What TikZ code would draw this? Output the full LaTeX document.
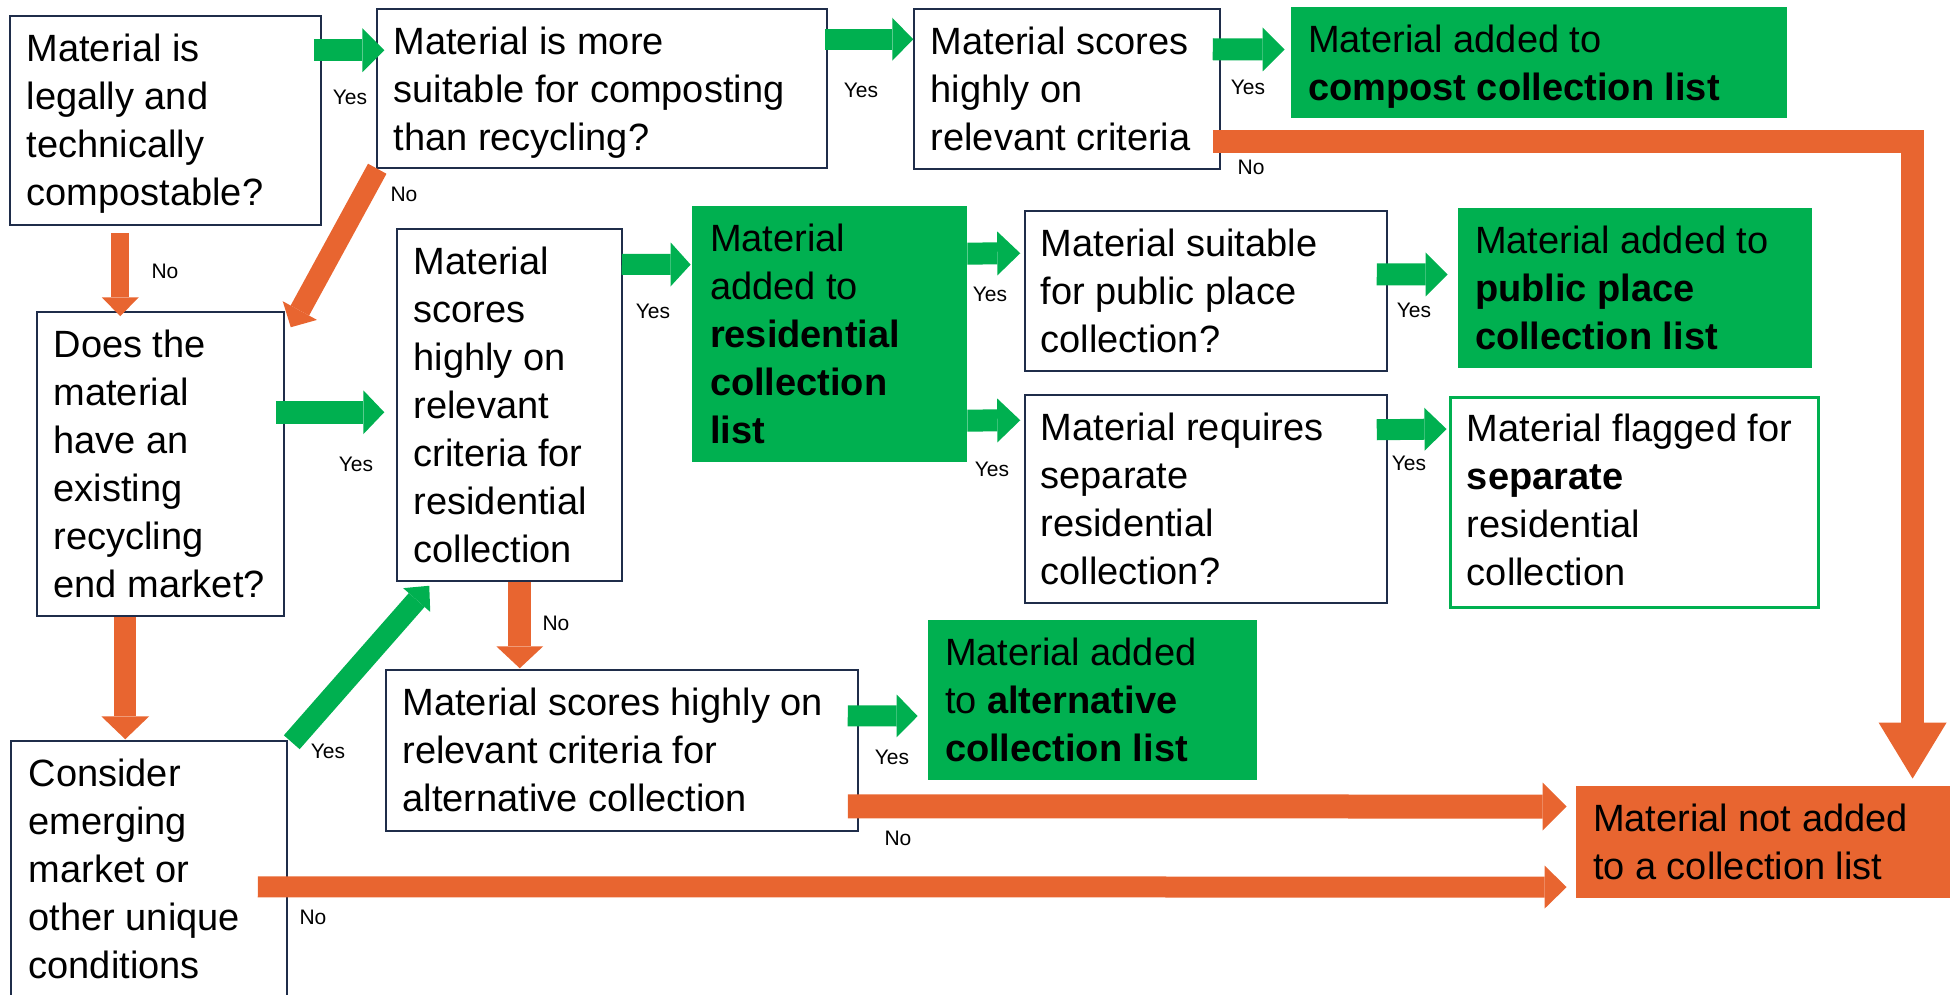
\documentclass[tikz,border=0pt]{standalone}
\usepackage{fontspec}
\setmainfont{Liberation Sans}
\usetikzlibrary{arrows.meta,fit,calc}
\definecolor{gr}{HTML}{00B050}
\definecolor{og}{HTML}{E86530}
\definecolor{nv}{HTML}{1F2D4A}
\begin{document}
\begin{tikzpicture}[x=0.5pt,y=-0.5pt,
  box/.style={draw=nv,line width=0.75pt,inner sep=0pt},
  gbox/.style={fill=gr,inner sep=0pt},
  gobox/.style={draw=gr,line width=1.5pt,inner sep=0pt},
  obox/.style={fill=og,inner sep=0pt},
  txt/.style={anchor=north west,inner sep=0pt,align=left,font=\fontsize{19}{24}\selectfont},
  lbl/.style={inner sep=0pt,font=\fontsize{10.5}{12}\selectfont},
  blk/.style n args={4}{draw=#1,line width=#2,line join=miter,
     -{Triangle[length=#4 0 0,width=#3 0 0,line width=0pt]}},
  garrow/.style={blk={gr}{11pt}{22pt}{11pt}},
]
\useasboundingbox (0,0) rectangle (1950,995);

% boxes
\node[box,fit={(10,16) (321,225)}] (A) {};
\node[box,fit={(377,9) (827,168)}] (B) {};
\node[box,fit={(914,9) (1220,169)}] (C) {};
\node[gbox,fit={(1291,7) (1787,118)}] (D) {};
\node[box,fit={(37,312) (284,616)}] (F) {};
\node[box,fit={(397,229) (622,581)}] (G) {};
\node[gbox,fit={(692,206) (967,462)}] (H) {};
\node[box,fit={(1025,211) (1387,371)}] (I) {};
\node[gbox,fit={(1458,208) (1812,368)}] (J) {};
\node[box,fit={(1025,395) (1387,603)}] (K) {};
\node[gobox,fit={(1450,397) (1818,607)}] (L) {};
\node[box,fit={(386,670) (858,831)}] (M) {};
\node[gbox,fit={(928,620) (1257,780)}] (N) {};
\node[box,fit={(11,741) (287,1010)}] (E) {};
\node[obox,fit={(1576,786) (1955,898)}] (O) {};

% green arrows
\draw[garrow] ($(A.north east)+(-8,35)$) -- ($(B.north west)+(8,42)$);
\draw[blk={gr}{10.5pt}{21.5pt}{10.5pt}] ($(B.north east)+(-3,31)$) -- ($(C.north west)+(0,31)$);
\draw[garrow] ($(C.north east)+(-8,41)$) -- ($(D.north west)+(-6,43)$);
\draw[blk={gr}{11.5pt}{22pt}{10.5pt}] ($(F.north east)+(-9,101)$) -- ($(G.north west)+(-12,184)$);
\draw[blk={gr}{10.5pt}{22pt}{10pt}] ($(G.north east)+(-1,36)$) -- ($(H.north west)+(-1,59)$);
\draw[blk={gr}{11pt}{22pt}{11.5pt}] ($(H.north east)+(0,48)$) -- ($(I.north west)+(-4,43)$);
\draw[blk={gr}{11pt}{22pt}{11.5pt}] ($(H.north east)+(0,215)$) -- ($(K.north west)+(-4,26)$);
\draw[garrow] ($(I.north east)+(-11,64)$) -- ($(J.north west)+(-10,67)$);
\draw[blk={gr}{10.5pt}{21.5pt}{11pt}] ($(K.north east)+(-11,35.5)$) -- ($(L.north west)+(-2,33.5)$);
\draw[blk={gr}{10.5pt}{21.5pt}{10.5pt}] ($(M.north east)+(-11,46.5)$) -- ($(N.north west)+(-10,96.5)$);
\draw[blk={gr}{10.5pt}{18pt}{9.5pt}] ($(E.north east)+(4,2)$) -- ($(G.south west)+(33,4)$);

% orange arrows
\draw[blk={og}{9pt}{18.5pt}{9.5pt}] ($(A.south west)+(111,7)$) -- ($(F.north west)+(84,5)$);
\draw[blk={og}{10.5pt}{19.5pt}{9.5pt}] ($(B.south west)+(1,0)$) -- ($(F.north east)+(6,16)$);
\draw[blk={og}{11pt}{24pt}{11.5pt}] ($(F.south west)+(89,0)$) -- ($(E.north west)+(115,-1)$);
\draw[blk={og}{11.5pt}{23.5pt}{11pt}] ($(G.south west)+(123.5,0)$) -- ($(M.north west)+(134.5,-1)$);
\draw[blk={og}{11.5pt}{34pt}{28pt}] ($(C.north east)+(-8,133)$) -| ($(O.north west)+(337,-7)$);
\draw[blk={og}{12pt}{24pt}{12pt}] ($(M.north east)+(-11,137)$) -- ($(O.north west)+(-9,21)$);
\draw[blk={og}{10.5pt}{21.5pt}{11pt}] ($(E.north east)+(-30,146.5)$) -- ($(O.north west)+(-9,101.5)$);

% texts
\node[txt] (At) at ($(A.north west)+(17,18)$) {Material is\\legally and\\technically\\compostable?};
\node[txt] (Bt) at ($(B.north west)+(17,18)$) {Material is more\\suitable for composting\\than recycling?};
\node[txt] (Ct) at ($(C.north west)+(17,18)$) {Material scores\\highly on\\relevant criteria};
\node[txt] (Dt) at ($(D.north west)+(17,18)$) {Material added to\\\textbf{compost collection list}};
\node[txt] (Ft) at ($(F.north west)+(17,18)$) {Does the\\material\\have an\\existing\\recycling\\end market?};
\node[txt] (Gt) at ($(G.north west)+(17,18)$) {Material\\scores\\highly on\\relevant\\criteria for\\residential\\collection};
\node[txt] (Ht) at ($(H.north west)+(18,18)$) {Material\\added to\\\textbf{residential}\\\textbf{collection}\\\textbf{list}};
\node[txt] (It) at ($(I.north west)+(16,18)$) {Material suitable\\for public place\\collection?};
\node[txt] (Jt) at ($(J.north west)+(17,18)$) {Material added to\\\textbf{public place}\\\textbf{collection list}};
\node[txt] (Kt) at ($(K.north west)+(16,18)$) {Material requires\\separate\\residential\\collection?};
\node[txt] (Lt) at ($(L.north west)+(18,18)$) {Material flagged for\\\textbf{separate}\\residential\\collection};
\node[txt] (Mt) at ($(M.north west)+(17,18)$) {Material scores highly on\\relevant criteria for\\alternative collection};
\node[txt] (Nt) at ($(N.north west)+(17,18)$) {Material added\\to \textbf{alternative}\\\textbf{collection list}};
\node[txt] (Et) at ($(E.north west)+(18,18)$) {Consider\\emerging\\market or\\other unique\\conditions};
\node[txt] (Ot) at ($(O.north west)+(17,18)$) {Material not added\\to a collection list};

% labels
\node[lbl] (y1) at (350,97) {Yes};
\node[lbl] (n1) at (165,271) {No};
\node[lbl] (n2) at (404,194) {No};
\node[lbl] (y2) at (861,90) {Yes};
\node[lbl] (y3) at (1248,87) {Yes};
\node[lbl] (n3) at (1251,167) {No};
\node[lbl] (y4) at (356,464) {Yes};
\node[lbl] (y5) at (653,311) {Yes};
\node[lbl] (y6) at (990,294) {Yes};
\node[lbl] (y7) at (992,469) {Yes};
\node[lbl] (y8) at (1414,310) {Yes};
\node[lbl] (y9) at (1409,463) {Yes};
\node[lbl] (n4) at (556,623) {No};
\node[lbl] (y10) at (328,751) {Yes};
\node[lbl] (y11) at (892,757) {Yes};
\node[lbl] (n5) at (898,838) {No};
\node[lbl] (n6) at (313,917) {No};
\end{tikzpicture}
\end{document}
